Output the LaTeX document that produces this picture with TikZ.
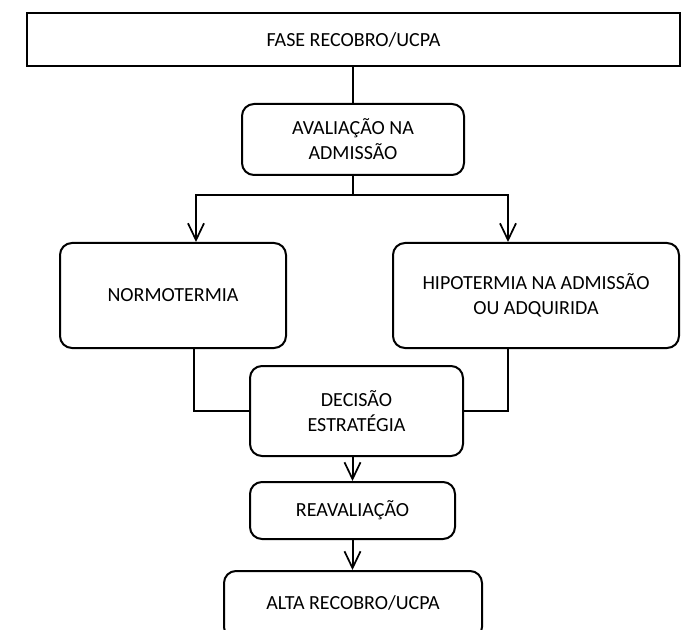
\documentclass[tikz,border=0pt]{standalone}
\usepackage{fontspec}
\setmainfont{Carlito}
\usetikzlibrary{arrows.meta}
\begin{document}
\begin{tikzpicture}[x=0.75pt,y=-0.75pt,
  line width=1.5pt,
  font=\fontsize{15}{18.75}\selectfont,
  base/.style={draw=black, align=center, inner sep=0pt},
  flatbox/.style={base},
  roundbox/.style={base, rounded corners=9pt},
  link/.style={draw=black, line width=1.5pt},
  arr/.style={link, -{Straight Barb[length=12.5pt,width=12pt,line width=1.3pt]}}
]
\useasboundingbox (0,0) rectangle (698,630);
\clip (0,0) rectangle (698,630);
\fill[white] (0,0) rectangle (698,630);

\node[flatbox, minimum width=489.75pt, minimum height=39.75pt] (top) at (353.5,39.5) {FASE RECOBRO/UCPA};
\node[roundbox, minimum width=166.5pt, minimum height=53.25pt] (aval) at (353,139.5) {AVALIAÇÃO NA\\ADMISSÃO};
\node[roundbox, minimum width=169.5pt, minimum height=78.75pt] (normo) at (173,295.5) {NORMOTERMIA};
\node[roundbox, minimum width=214.5pt, minimum height=78.75pt] (hipo) at (536,295.5) {HIPOTERMIA NA ADMISSÃO\\OU ADQUIRIDA};
\node[roundbox, minimum width=159.75pt, minimum height=67.5pt] (dec) at (356.5,411) {DECISÃO\\ESTRATÉGIA};
\node[roundbox, minimum width=153.75pt, minimum height=42.75pt] (reav) at (352.5,510.5) {REAVALIAÇÃO};
\node[roundbox, minimum width=193.5pt, minimum height=51pt] (alta) at (353,605) {};
\node (altatxt) at (353,603) {ALTA RECOBRO/UCPA};

\coordinate (split) at (353,195);
\coordinate (sl) at (196,195);
\coordinate (sr) at (508,195);
\coordinate (jl) at (194,411);
\coordinate (jr) at (508,411);

\draw[link] (top.south -| aval.north) -- (aval.north);
\draw[link] (aval.south) -- (split);
\draw[link] ([xshift=-0.75pt]sl) -- ([xshift=0.75pt]sr);
\draw[arr] (sl) -- (sl |- normo.north);
\draw[arr] (sr) -- (sr |- hipo.north);
\draw[link] (normo.south -| jl) -- (jl) -- (dec.west);
\draw[link] (hipo.south -| jr) -- (jr) -- (dec.east);
\draw[arr] (dec.south -| reav.north) -- (reav.north);
\draw[arr] (reav.south) -- (alta.north -| reav.south);
\end{tikzpicture}
\end{document}
